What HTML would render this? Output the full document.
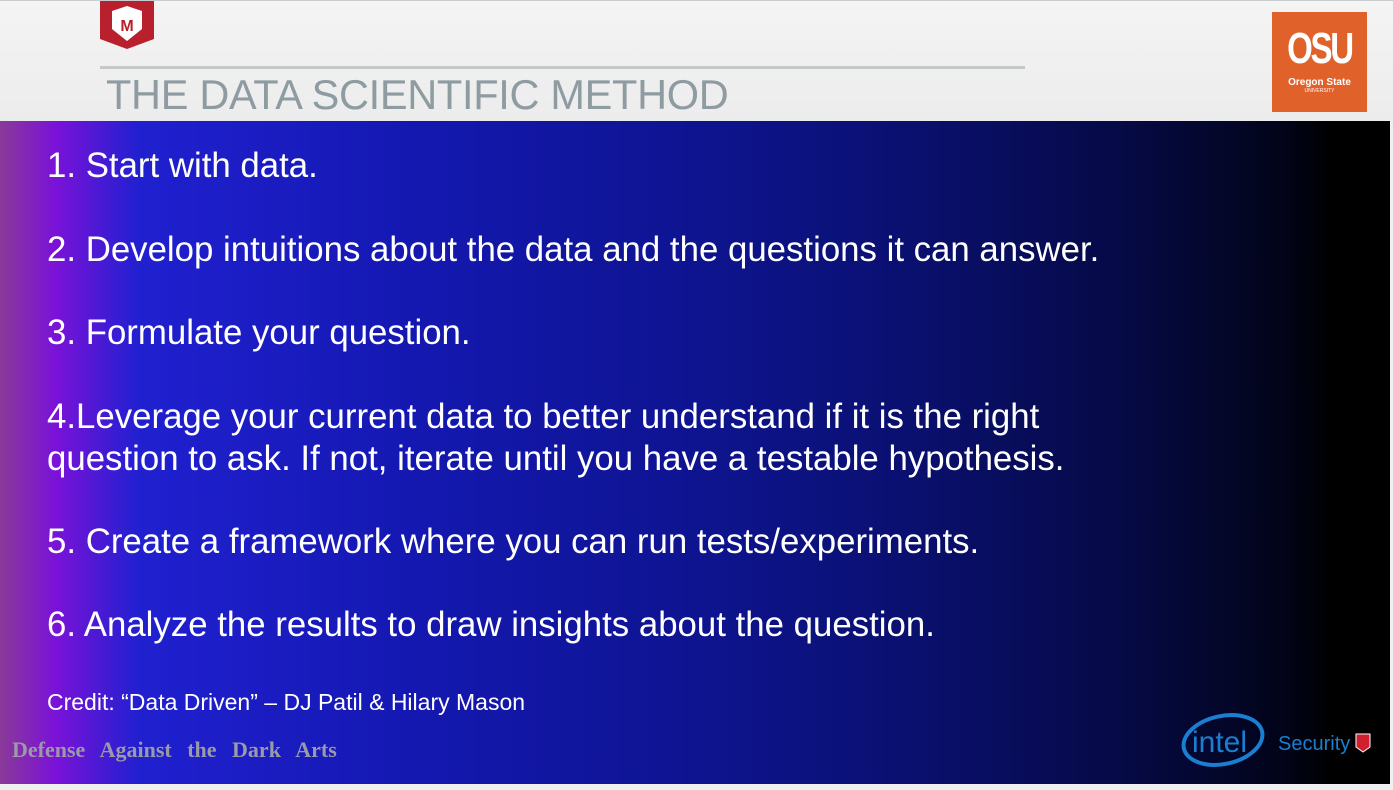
<!DOCTYPE html>
<html><head><meta charset="utf-8"><style>
body{margin:0;width:1393px;height:790px;overflow:hidden;background:#f0f0f0;font-family:"Liberation Sans",sans-serif;position:relative}
#hdr{position:absolute;left:0;top:0;width:1393px;height:121px;background:linear-gradient(#f4f4f4,#ececec);border-top:1px solid #c8ccd0}
#main{position:absolute;left:0;top:121px;width:1390px;height:663px;background:linear-gradient(90deg,#8a3a98 0%,#7a12d8 4%,#2020d0 10%,#1418b0 30%,#0e1490 50%,#0a1070 65%,#060a48 80%,#02041a 92%,#000 96%)}
.t{position:absolute;left:47px;color:#fff;font-size:34.8px;line-height:42px;margin:0;white-space:nowrap}
</style></head><body>
<div id="hdr">
<svg style="position:absolute;left:98px;top:0" width="58" height="50"><path d="M2 0H56V38L29 48L2 38Z" fill="#b8202e"/><path d="M14 10L29 5L44 10V28Q29 40 29 40Q14 28 14 28Z" fill="#fff"/><text x="29" y="30" font-size="16" font-weight="bold" text-anchor="middle" fill="#b8202e" font-family="Liberation Sans">M</text></svg>
<div style="position:absolute;left:100px;top:65px;width:925px;height:3px;background:#c4c8c8"></div>
<div style="position:absolute;left:106px;top:70px;font-size:41.5px;color:#8e9ca2;letter-spacing:-0.3px">THE DATA SCIENTIFIC METHOD</div>
<div style="position:absolute;left:1272px;top:11px;width:95px;height:100px;background:#e0622a;color:#fff;text-align:center"><div style="font-size:44px;font-weight:bold;line-height:58px;letter-spacing:-3px;margin-top:8px;transform:scaleX(.75)">OSU</div><div style="font-size:10px;font-weight:bold;line-height:10px">Oregon State</div><div style="font-size:5px">UNIVERSITY</div></div>
</div>
<div id="main"></div>
<p class="t" style="top:145px">1. Start with data.</p>
<p class="t" style="top:229px">2. Develop intuitions about the data and the questions it can answer.</p>
<p class="t" style="top:312px">3. Formulate your question.</p>
<p class="t" style="top:396px">4.Leverage your current data to better understand if it is the right<br>question to ask. If not, iterate until you have a testable hypothesis.</p>
<p class="t" style="top:521px">5. Create a framework where you can run tests/experiments.</p>
<p class="t" style="top:604px">6. Analyze the results to draw insights about the question.</p>
<p class="t" style="top:688px;font-size:23px;line-height:28px">Credit: “Data Driven” – DJ Patil &amp; Hilary Mason</p>
<div style="position:absolute;left:12px;top:737px;font-family:'Liberation Serif',serif;font-weight:bold;font-size:22px;color:#9a9aa8;word-spacing:10px">Defense Against the Dark Arts</div>
<svg style="position:absolute;left:1180px;top:705px" width="195" height="70"><ellipse cx="43" cy="35" rx="40" ry="24" fill="none" stroke="#1a7fd0" stroke-width="4" transform="rotate(-12 43 35)"/><text x="12" y="47" font-size="30" fill="#1a7fd0" font-family="Liberation Sans">intel</text><text x="98" y="45" font-size="20" fill="#1a7fd0" font-family="Liberation Sans">Security</text><path d="M176 29H190V42L183 47L176 42Z" fill="#d02030" stroke="#fff"/></svg>
</body></html>
